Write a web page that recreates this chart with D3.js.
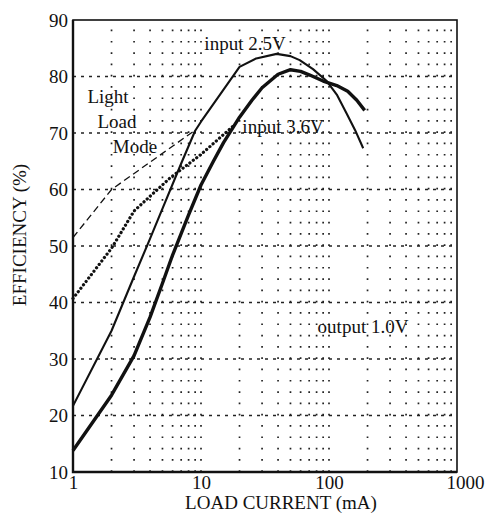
<!DOCTYPE html>
<html>
<head>
<meta charset="utf-8">
<script src="https://cdn.jsdelivr.net/npm/d3@7"></script>
<style>
  body { margin: 0; background: #fff; }
  svg text { font-family: "Liberation Serif", "Times New Roman", serif; fill: #111; }
</style>
</head>
<body>
<svg id="chart" width="486" height="515"></svg>
<script>
// data: [load current mA, efficiency %]
const xTickValues = [1, 10, 100, 1000];
const yTickValues = [10, 20, 30, 40, 50, 60, 70, 80, 90];

const input25 = [[1, 21.7], [2, 35], [3, 44.6], [4, 51.3], [5, 56.6], [7, 64.6], [9, 70.4],
  [10, 72], [20, 81.7], [27, 83.2], [39, 84], [50, 83.6], [59, 82.9], [75, 81.3], [96, 79.2],
  [115, 76.8], [137, 73.5], [160, 70.5], [185, 67.3]];
const input36 = [[1, 13.8], [2, 23.6], [3, 30.6], [4, 37.4], [5, 43.4], [6, 48.4], [8, 55.5], [10, 60.8],
  [12.5, 65], [15, 68.3], [20, 72.8], [25, 75.8], [30, 78], [40, 80.4], [50, 81.2], [60, 80.9],
  [70, 80.3], [90, 79.2], [115, 78.4], [140, 77.4], [165, 75.8], [190, 74]];
const lightLoad25 = [[1, 51.5], [2, 60], [9, 70.5]];
const lightLoad36 = [[1, 40.7], [2, 49.6], [3, 56.2], [5.7, 62], [10, 66.2], [18, 71.3]];

const labels = [
  { text: "input 2.5V", x: 245, y: 50 },
  { text: "input 3.6V", x: 283, y: 133 },
  { text: "Light", x: 108, y: 103 },
  { text: "Load", x: 117, y: 128 },
  { text: "Mode", x: 135, y: 153 },
  { text: "output 1.0V", x: 363, y: 333 }
];

const plotLeft = 73, plotRight = 457, plotTop = 20, plotBottom = 472;

const svg = d3.select("#chart");

const x = d3.scaleLog().domain([1, 1000]).range([plotLeft, plotRight]);
const y = d3.scaleLinear().domain([10, 90]).range([plotBottom, plotTop]);

// minor vertical grid lines (dotted)
const minor = [];
for (let d = 1; d <= 100; d *= 10) {
    for (let k = 2; k <= 10; k++) {
        if (d * k < 1000) minor.push(d * k);
    }
}
svg.append("g")
    .selectAll("line")
    .data(minor)
    .enter()
    .append("line")
    .attr("x1", d => x(d))
    .attr("x2", d => x(d))
    .attr("y1", plotBottom)
    .attr("y2", plotTop)
    .attr("stroke", "#222")
    .attr("stroke-width", 1.7)
    .attr("stroke-dasharray", "1.7," + (y(10) - y(12) - 1.7).toFixed(2));

// horizontal grid lines (dashed)
svg.append("g")
    .selectAll("line")
    .data(yTickValues.slice(1, -1))
    .enter()
    .append("line")
    .attr("x1", plotLeft)
    .attr("x2", plotRight)
    .attr("y1", d => y(d))
    .attr("y2", d => y(d))
    .attr("stroke", "#222")
    .attr("stroke-width", 1.3)
    .attr("stroke-dasharray", "3,5");

// frame
svg.append("rect")
    .attr("x", plotLeft)
    .attr("y", plotTop)
    .attr("width", plotRight - plotLeft)
    .attr("height", plotBottom - plotTop)
    .attr("fill", "none")
    .attr("stroke", "#111")
    .attr("stroke-width", 1.6);
svg.append("path")
    .attr("d", `M${plotLeft},${plotTop}V${plotBottom}H${plotRight}`)
    .attr("fill", "none")
    .attr("stroke", "#111")
    .attr("stroke-width", 2.4);

// axes
const xAxis = d3.axisBottom(x).tickValues(xTickValues).tickFormat(d3.format("d")).tickSize(0).tickPadding(4);
const gx = svg.append("g").attr("transform", `translate(0,${plotBottom})`).call(xAxis);
gx.select(".domain").remove();
gx.selectAll("text").attr("font-size", 19).attr("fill", "#111")
    .attr("dx", d => d === 1000 ? 8 : 0);

const yAxis = d3.axisLeft(y).tickValues(yTickValues).tickSize(0).tickPadding(5);
const gy = svg.append("g").attr("transform", `translate(${plotLeft},0)`).call(yAxis);
gy.select(".domain").remove();
gy.selectAll("text").attr("font-size", 19).attr("fill", "#111");

svg.append("text")
    .attr("x", 281)
    .attr("y", 509)
    .attr("text-anchor", "middle")
    .attr("font-size", 19)
    .text("LOAD CURRENT (mA)");

svg.append("text")
    .attr("transform", "translate(26,235) rotate(-90)")
    .attr("text-anchor", "middle")
    .attr("font-size", 19)
    .text("EFFICIENCY (%)");

// curves
const line = d3.line()
    .x(d => x(d[0]))
    .y(d => y(d[1]));

svg.append("path")
    .attr("d", line(lightLoad25))
    .attr("fill", "none")
    .attr("stroke", "#111")
    .attr("stroke-width", 1.3)
    .attr("stroke-dasharray", "7,4");

svg.append("path")
    .attr("d", line(lightLoad36))
    .attr("fill", "none")
    .attr("stroke", "#111")
    .attr("stroke-width", 3.2)
    .attr("stroke-linecap", "round")
    .attr("stroke-dasharray", "0.1,4.2");

svg.append("path")
    .attr("d", line(input25))
    .attr("fill", "none")
    .attr("stroke", "#111")
    .attr("stroke-width", 2.1)
    .attr("stroke-linejoin", "round");

svg.append("path")
    .attr("d", line(input36))
    .attr("fill", "none")
    .attr("stroke", "#111")
    .attr("stroke-width", 3.4)
    .attr("stroke-linejoin", "round");

// annotations
svg.append("g")
    .selectAll("text")
    .data(labels)
    .enter()
    .append("text")
    .attr("x", d => d.x)
    .attr("y", d => d.y)
    .attr("text-anchor", "middle")
    .attr("font-size", 19)
    .text(d => d.text);
</script>
</body>
</html>
